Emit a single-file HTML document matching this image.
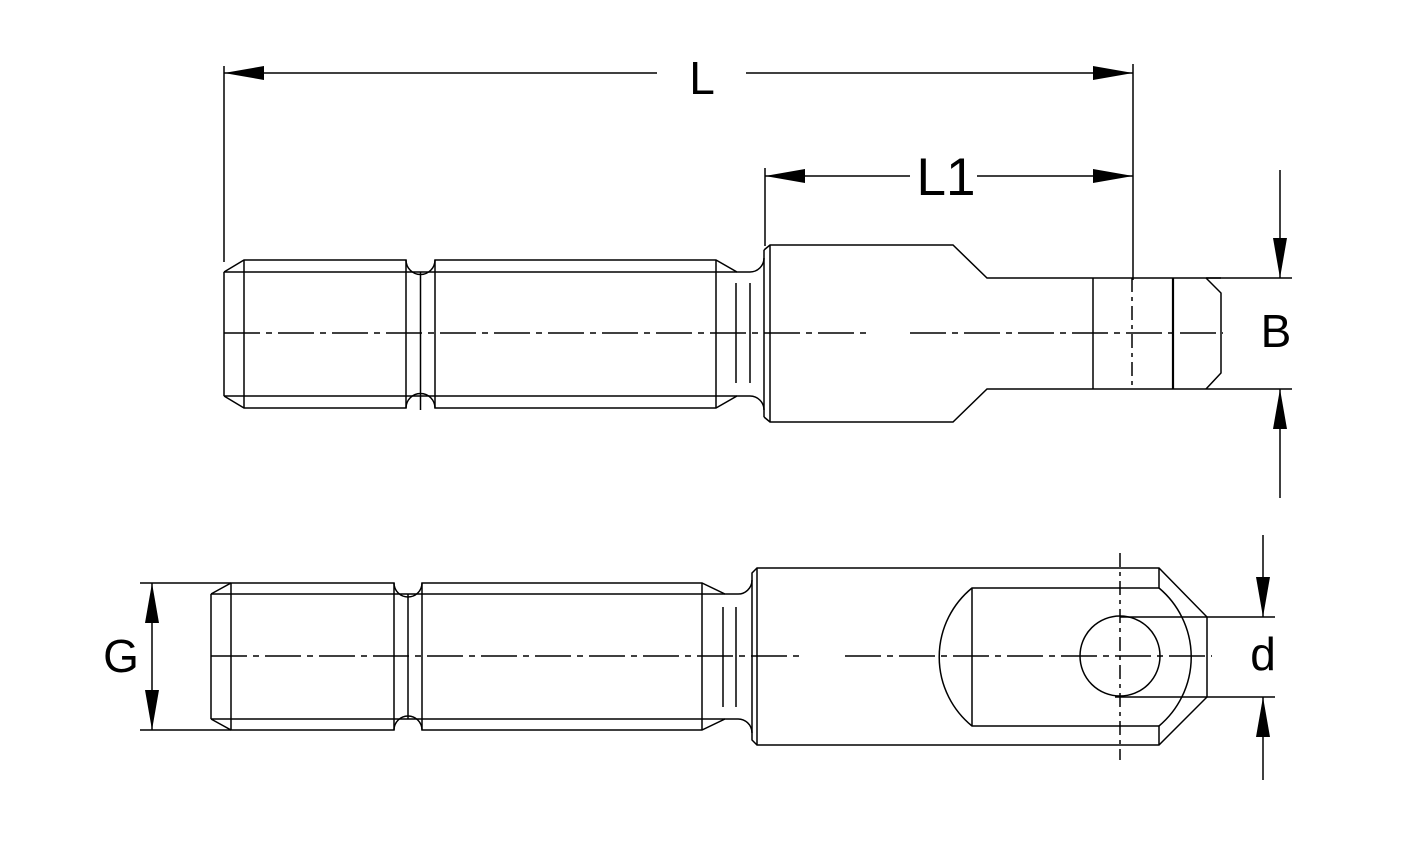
<!DOCTYPE html>
<html><head><meta charset="utf-8"><style>
html,body{margin:0;padding:0;background:#fff;}
svg{display:block;}
text{font-family:"Liberation Sans",Arial,sans-serif;fill:#000;}
</style></head><body>
<svg width="1422" height="864" viewBox="0 0 1422 864" xmlns="http://www.w3.org/2000/svg">
<defs>
<marker id="a" viewBox="0 0 40 14" refX="40" refY="7" markerWidth="40" markerHeight="14" markerUnits="userSpaceOnUse" orient="auto-start-reverse">
<path d="M0,0 L40,7 L0,14 Z" fill="#000"/>
</marker>
</defs>
<g fill="none" stroke="#000" stroke-width="1.5">
<line x1="224" y1="73" x2="657" y2="73" marker-start="url(#a)"/>
<line x1="746" y1="73" x2="1133" y2="73" marker-end="url(#a)"/>
<line x1="224" y1="66" x2="224" y2="262"/>
<line x1="1133" y1="64" x2="1133" y2="280"/>
<line x1="765" y1="176" x2="910" y2="176" marker-start="url(#a)"/>
<line x1="977" y1="176" x2="1133" y2="176" marker-end="url(#a)"/>
<line x1="765" y1="168" x2="765" y2="246"/>
<path d="M224,272 L244,260 L406,260 A14,14 0 0 0 435,260 L716,260 L737,272 L750,272 A14,14 0 0 0 764,258"/>
<path d="M224,396 L244,408 L406,408 A14,14 0 0 1 435,408 L716,408 L737,396 L750,396 A14,14 0 0 1 764,410"/>
<line x1="224" y1="272" x2="224" y2="396"/>
<line x1="244" y1="260" x2="244" y2="408"/>
<line x1="406" y1="260" x2="406" y2="408"/>
<line x1="435" y1="260" x2="435" y2="408"/>
<line x1="420.5" y1="272" x2="420.5" y2="410"/>
<line x1="716" y1="260" x2="716" y2="408"/>
<line x1="224" y1="272" x2="737" y2="272"/>
<line x1="224" y1="396" x2="737" y2="396"/>
<line x1="736" y1="283" x2="736" y2="383"/>
<line x1="750" y1="283" x2="750" y2="383"/>
<path d="M764,250 L770,245 L953,245 L987,278 L1221,278"/>
<path d="M764,417 L770,422 L953,422 L987,389 L1206,389"/>
<line x1="764" y1="250" x2="764" y2="417"/>
<line x1="770" y1="245" x2="770" y2="422"/>
<line x1="1093" y1="278" x2="1093" y2="389"/>
<line x1="1173" y1="278" x2="1173" y2="389" stroke-width="2.2"/>
<path d="M1206,278 L1221,293 L1221,373 L1206,389"/>
<line x1="1132" y1="278" x2="1132" y2="389" stroke-dasharray="14 5 4 5"/>
<line x1="1206" y1="278" x2="1292" y2="278"/>
<line x1="1206" y1="389" x2="1292" y2="389"/>
<line x1="1280" y1="170" x2="1280" y2="278" marker-end="url(#a)"/>
<line x1="1280" y1="498" x2="1280" y2="389" marker-end="url(#a)"/>
<line x1="224" y1="333" x2="868" y2="333" stroke-dasharray="36 6 6 6"/>
<line x1="910" y1="333" x2="1223" y2="333" stroke-dasharray="36 6 6 6"/>

<path d="M211,594 L231,583 L394,583 A14,14 0 0 0 422,583 L702,583 L725,594 L737,594 A14,14 0 0 0 752,580"/>
<path d="M211,719 L231,730 L394,730 A14,14 0 0 1 422,730 L702,730 L725,719 L737,719 A14,14 0 0 1 752,733"/>
<line x1="211" y1="594" x2="211" y2="719"/>
<line x1="231" y1="583" x2="231" y2="730"/>
<line x1="394" y1="583" x2="394" y2="730"/>
<line x1="422" y1="583" x2="422" y2="730"/>
<line x1="408" y1="594" x2="408" y2="719"/>
<line x1="702" y1="583" x2="702" y2="730"/>
<line x1="211" y1="594" x2="725" y2="594"/>
<line x1="211" y1="719" x2="725" y2="719"/>
<line x1="723" y1="607" x2="723" y2="707"/>
<line x1="736" y1="607" x2="736" y2="707"/>
<path d="M752,573 L757,568 L1159,568 L1207,617 L1207,697 L1159,745 L757,745 L752,740 Z"/>
<line x1="757" y1="568" x2="757" y2="745"/>
<path d="M1159,568 L1159,588 L972,588 A89,89 0 0 0 972,726 L1159,726 L1159,745"/>
<line x1="972" y1="588" x2="972" y2="726"/>
<path d="M1159,588 A90,90 0 0 1 1159,726"/>
<circle cx="1120" cy="656" r="40"/>
<line x1="1120" y1="553" x2="1120" y2="760" stroke-dasharray="14 5 4 5"/>
<line x1="140" y1="583" x2="231" y2="583"/>
<line x1="140" y1="730" x2="231" y2="730"/>
<line x1="152" y1="656" x2="152" y2="583" marker-end="url(#a)"/>
<line x1="152" y1="656" x2="152" y2="730" marker-end="url(#a)"/>
<line x1="1120" y1="617" x2="1275" y2="617"/>
<line x1="1115" y1="697" x2="1275" y2="697"/>
<line x1="1263" y1="535" x2="1263" y2="617" marker-end="url(#a)"/>
<line x1="1263" y1="780" x2="1263" y2="697" marker-end="url(#a)"/>
<line x1="211" y1="656" x2="805" y2="656" stroke-dasharray="36 6 6 6"/>
<line x1="845" y1="656" x2="1212" y2="656" stroke-dasharray="36 6 6 6"/>
</g>
<text x="702" y="94" font-size="46" text-anchor="middle">L</text>
<text x="946" y="195" font-size="53" text-anchor="middle">L1</text>
<text x="1276" y="347" font-size="46" text-anchor="middle">B</text>
<text x="121" y="672" font-size="46" text-anchor="middle">G</text>
<text x="1263" y="670" font-size="46" text-anchor="middle">d</text>
</svg>
</body></html>
